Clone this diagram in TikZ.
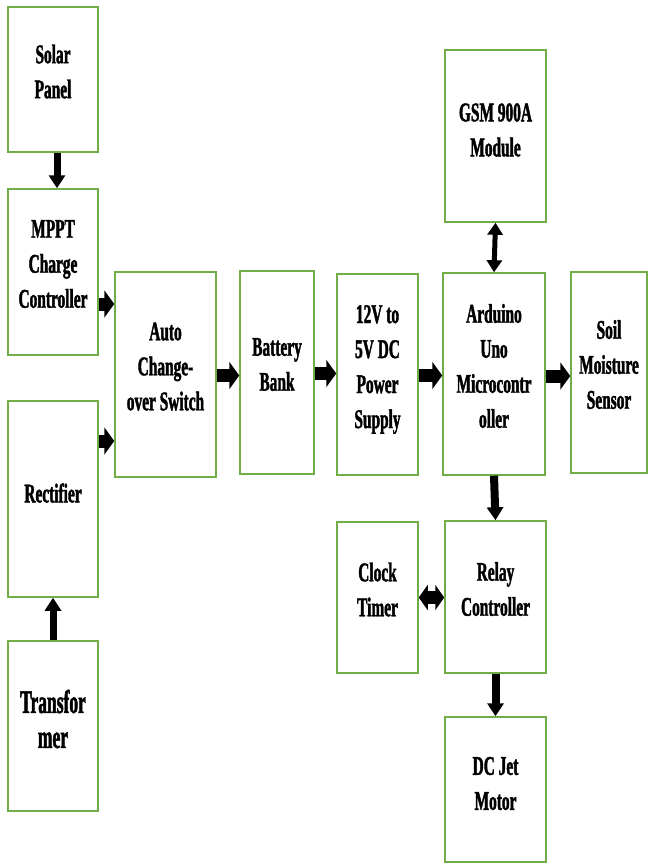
\documentclass[tikz,border=0pt]{standalone}
\usepackage{fontspec}
\setmainfont{Liberation Serif}[FakeStretch=0.57]
\newfontfamily\boxfont{Liberation Serif Bold}[FakeStretch=0.57,FakeBold=1.5]
\newfontfamily\bigboxfont{Liberation Serif Bold}[FakeStretch=0.53,FakeBold=1.5]
\usetikzlibrary{arrows.meta}
\definecolor{boxgreen}{RGB}{112,173,71}
\tikzset{
  box/.style={draw=boxgreen, line width=1.5pt, inner sep=0pt},
  txt/.style={inner sep=0pt, align=center, font=\boxfont\fontsize{27}{35}\selectfont},
  bigtxt/.style={inner sep=0pt, align=center, font=\bigboxfont\fontsize{33}{35}\selectfont},
  harr/.style={line width=13pt, -{Triangle[length=10pt,width=27pt]}},
  hdarr/.style={line width=13pt, {Triangle[length=9pt,width=25pt]}-{Triangle[length=9pt,width=25pt]}},
  varr/.style={line width=#1, -{Triangle[length=13pt,width=16pt]}},
  vdarr/.style={line width=5pt, {Triangle[length=12pt,width=15pt]}-{Triangle[length=12pt,width=15pt]}}
}
\begin{document}
\begin{tikzpicture}[x=1pt,y=-1pt]
\useasboundingbox (0,0) rectangle (648,863);
\node[box, minimum width=90pt, minimum height=145pt] (solar) at (53,79.5) {};
\node[box, minimum width=90pt, minimum height=166pt] (mppt) at (53,272) {};
\node[box, minimum width=90pt, minimum height=196pt] (rect) at (53,499) {};
\node[box, minimum width=90pt, minimum height=170pt] (trans) at (53,726) {};
\node[box, minimum width=101pt, minimum height=205pt] (auto) at (165.5,374.5) {};
\node[box, minimum width=74pt, minimum height=203pt] (batt) at (277,372.5) {};
\node[box, minimum width=81pt, minimum height=201pt] (psu) at (377.5,374.5) {};
\node[box, minimum width=102pt, minimum height=202pt] (ard) at (494,374) {};
\node[box, minimum width=76pt, minimum height=201pt] (soil) at (609,372.5) {};
\node[box, minimum width=101pt, minimum height=172pt] (gsm) at (495.5,136) {};
\node[box, minimum width=81pt, minimum height=151pt] (clock) at (377.5,597.5) {};
\node[box, minimum width=101pt, minimum height=152pt] (relay) at (495.5,597) {};
\node[box, minimum width=101pt, minimum height=145pt] (motor) at (495.5,789.5) {};

\node[txt] (solar-t) at ([yshift=8pt]solar.center) {Solar\\Panel};
\node[txt] (mppt-t) at ([yshift=8pt]mppt.center) {MPPT\\Charge\\Controller};
\node[txt] (rect-t) at ([yshift=6pt]rect.center) {Rectifier};
\node[bigtxt] (trans-t) at ([yshift=7pt]trans.center) {Transfor\\mer};
\node[txt] (auto-t) at ([yshift=8pt]auto.center) {Auto\\Change-\\over Switch};
\node[txt] (batt-t) at ([yshift=8pt]batt.center) {Battery\\Bank};
\node[txt] (psu-t) at ([yshift=5pt]psu.center) {12V to\\5V DC\\Power\\Supply};
\node[txt] (ard-t) at ([yshift=8pt]ard.center) {Arduino\\Uno\\Microcontr\\oller};
\node[txt] (soil-t) at ([yshift=8pt]soil.center) {Soil\\Moisture\\Sensor};
\node[txt] (gsm-t) at ([yshift=6pt]gsm.center) {GSM 900A\\Module};
\node[txt] (clock-t) at ([yshift=8pt]clock.center) {Clock\\Timer};
\node[txt] (relay-t) at ([yshift=8pt]relay.center) {Relay\\Controller};
\node[txt] (motor-t) at ([yshift=6pt]motor.center) {DC Jet\\Motor};

% vertical arrows
\draw[varr=7pt] ([xshift=4pt]solar.south) -- ([xshift=4pt]mppt.north);
\draw[varr=7pt] (trans.north) -- (rect.south);
\draw[vdarr] (gsm.south) -- (ard.north);
\draw[varr=8pt] (ard.south) -- (relay.north);
\draw[varr=8pt] (relay.south) -- (motor.north);

% horizontal arrows
\coordinate (m1) at ([yshift=-32pt]mppt.east);
\coordinate (r1) at ([yshift=58pt]rect.east);
\draw[harr] (m1) -- (m1 -| auto.west);
\draw[harr] (r1) -- (r1 -| auto.west);
\coordinate (a1) at ([yshift=-1pt]auto.east);
\draw[harr] (a1) -- (a1 -| batt.west);
\coordinate (b1) at ([yshift=-1pt]batt.east);
\draw[harr] (b1) -- (b1 -| psu.west);
\coordinate (p1) at ([yshift=-1pt]psu.east);
\draw[harr] (p1) -- (p1 -| ard.west);
\coordinate (d1) at ([yshift=-2pt]ard.east);
\draw[harr] (d1) -- (d1 -| soil.west);
\draw[hdarr] (clock.east) -- (clock.east -| relay.west);
\end{tikzpicture}
\end{document}
